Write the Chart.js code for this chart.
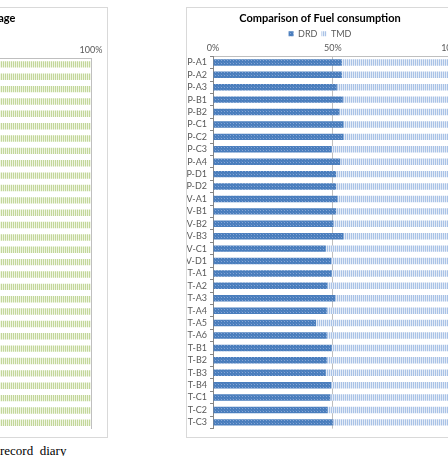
<!DOCTYPE html>
<html>
<head>
<meta charset="utf-8">
<script src="https://cdn.jsdelivr.net/npm/chart.js@4"></script>
<style>
body { margin: 0; width: 448px; height: 456px; overflow: hidden; background: #fff; position: relative; }
.frame { position: absolute; border: 1px solid #d9d9d9; background: #fff; }
#leftBox { left: -116px; top: 7px; width: 222px; height: 429px; }
#rightBox { left: 186px; top: 7px; width: 280px; height: 429px; }
#caption { position: absolute; left: 0; top: 443px; font-family: "Liberation Serif", serif; font-size: 13px; color: #000; white-space: pre; }
</style>
</head>
<body>
<div class="frame" id="leftBox"><canvas id="leftGraph" width="222" height="429"></canvas></div>
<div class="frame" id="rightBox"><canvas id="graph" width="280" height="429"></canvas></div>
<div id="caption">record  diary</div>
<script>
const vessels = ['P-A1','P-A2','P-A3','P-B1','P-B2','P-C1','P-C2','P-C3','P-A4','P-D1','P-D2',
    'V-A1','V-B1','V-B2','V-B3','V-C1','V-D1',
    'T-A1','T-A2','T-A3','T-A4','T-A5','T-A6','T-B1','T-B2','T-B3','T-B4','T-C1','T-C2','T-C3']
const drd = [53.8,53.8,51.7,54.2,52.8,54.5,54.5,49.6,53.1,51.4,51.4,
    52.0,51.4,50.3,54.5,47.1,49.3,
    49.6,47.8,51.0,47.5,43.0,47.5,49.6,47.5,47.1,49.3,49.0,47.9,50.0]
const tmd = [46.2,46.2,48.3,45.8,47.2,45.5,45.5,50.4,46.9,48.6,48.6,
    48.0,48.6,49.7,45.5,52.9,50.7,
    50.4,52.2,49.0,52.5,57.0,52.5,50.4,52.5,52.9,50.7,51.0,52.1,50.0]
// left chart is cut off by the crop, only its full green bars show
const leftShare = [100,100,100,100,100,100,100,100,100,100,100,100,100,100,100,
    100,100,100,100,100,100,100,100,100,100,100,100,100,100,100]
const xTicks = [0, 50, 100]
const leftTicks = [100]

const font = 'Lato, "Liberation Sans", sans-serif'

function makePattern(w, h, base, dots){
    let c = document.createElement('canvas')
    c.width = w
    c.height = h
    let g = c.getContext('2d')
    g.fillStyle = base
    g.fillRect(0, 0, w, h)
    for(let d of dots){
        g.fillStyle = d[2]
        g.fillRect(d[0], d[1], 1, 1)
    }
    return g.createPattern(c, 'repeat')
}

function drdPattern(){
    return makePattern(3, 3, '#4a7ebd', [[1,1,'#86a6d6'],[0,0,'#5a88c4']])
}

function tmdPattern(){
    return makePattern(2, 1, '#a9c2e6', [[1,0,'#e4ecf7']])
}

function greenPattern(){
    return makePattern(2, 1, '#c2d79a', [[1,0,'#f0f5e2']])
}

// legend box is taller than needed below the labels, trim it
const legendTrim = {
    id: 'legendTrim',
    beforeInit(chart){
        const fit = chart.legend.fit
        chart.legend.fit = function(){
            fit.call(this)
            this.height -= 5
        }
    }
}

function xScale(ticks){
    return {
        position: 'top',
        stacked: true,
        min: 0,
        max: 100,
        afterBuildTicks: (s) => { s.ticks = ticks.map(v => ({ value: v })) },
        afterFit: (s) => { s.height = 13 },
        ticks: { callback: v => v + '%', color: '#595959', font: { family: font, size: 9 }, padding: 3, maxRotation: 0 },
        grid: {
            color: ctx => ctx.tick && ctx.tick.value === 0 ? 'rgba(0,0,0,0)' : '#bfbfbf',
            drawTicks: false,
            lineWidth: 1
        },
        border: { display: true, color: '#bfbfbf' }
    }
}

function yScale(showLabels, w){
    return {
        stacked: true,
        afterFit: (s) => { s.width = w },
        ticks: { display: showLabels, color: '#595959', font: { family: font, size: 9 }, padding: 3, autoSkip: false },
        grid: { drawOnChartArea: false, drawTicks: true, tickLength: 3, color: '#868686' },
        border: { display: true, color: '#868686' }
    }
}

function setGraph(){
    const ctx = document.getElementById('graph').getContext('2d')
    const structGraph = {
        type: 'bar',
        data: {
            labels: vessels,
            datasets: [
                { label: 'DRD', data: drd, backgroundColor: drdPattern(), borderWidth: 0, barPercentage: 0.52, categoryPercentage: 1 },
                { label: 'TMD', data: tmd, backgroundColor: tmdPattern(), borderWidth: 0, barPercentage: 0.52, categoryPercentage: 1 }
            ]
        },
        options: {
            indexAxis: 'y',
            responsive: false,
            animation: false,
            layout: { padding: { left: 0, right: 14, top: 0, bottom: 8 } },
            plugins: {
                title: {
                    display: true,
                    text: 'Comparison of Fuel consumption',
                    color: '#000',
                    font: { family: font, size: 11, weight: 'bold' },
                    padding: { top: 4, bottom: 0 }
                },
                legend: {
                    labels: { boxWidth: 5, boxHeight: 5, color: '#595959', font: { family: font, size: 9 }, padding: 4 }
                },
                tooltip: { enabled: false }
            },
            scales: { x: xScale(xTicks), y: yScale(true, 26) }
        },
        plugins: [legendTrim]
    }
    const myChart = new Chart(ctx, structGraph)
}

function setLeftGraph(){
    const ctx = document.getElementById('leftGraph').getContext('2d')
    const structGraph = {
        type: 'bar',
        data: {
            labels: vessels,
            datasets: [
                { label: 'Share', data: leftShare, backgroundColor: greenPattern(), borderWidth: 0, barPercentage: 0.52, categoryPercentage: 1 }
            ]
        },
        options: {
            indexAxis: 'y',
            responsive: false,
            animation: false,
            layout: { padding: { left: 0, right: 16, top: 0, bottom: 8 } },
            plugins: {
                title: {
                    display: true,
                    text: 'Percentage',
                    color: '#000',
                    font: { family: font, size: 11, weight: 'bold' },
                    padding: { top: 4, bottom: 20 }
                },
                legend: { display: false },
                tooltip: { enabled: false }
            },
            scales: { x: xScale(leftTicks), y: yScale(false, 4) }
        }
    }
    const myChart = new Chart(ctx, structGraph)
}

setLeftGraph()
setGraph()
</script>
</body>
</html>
